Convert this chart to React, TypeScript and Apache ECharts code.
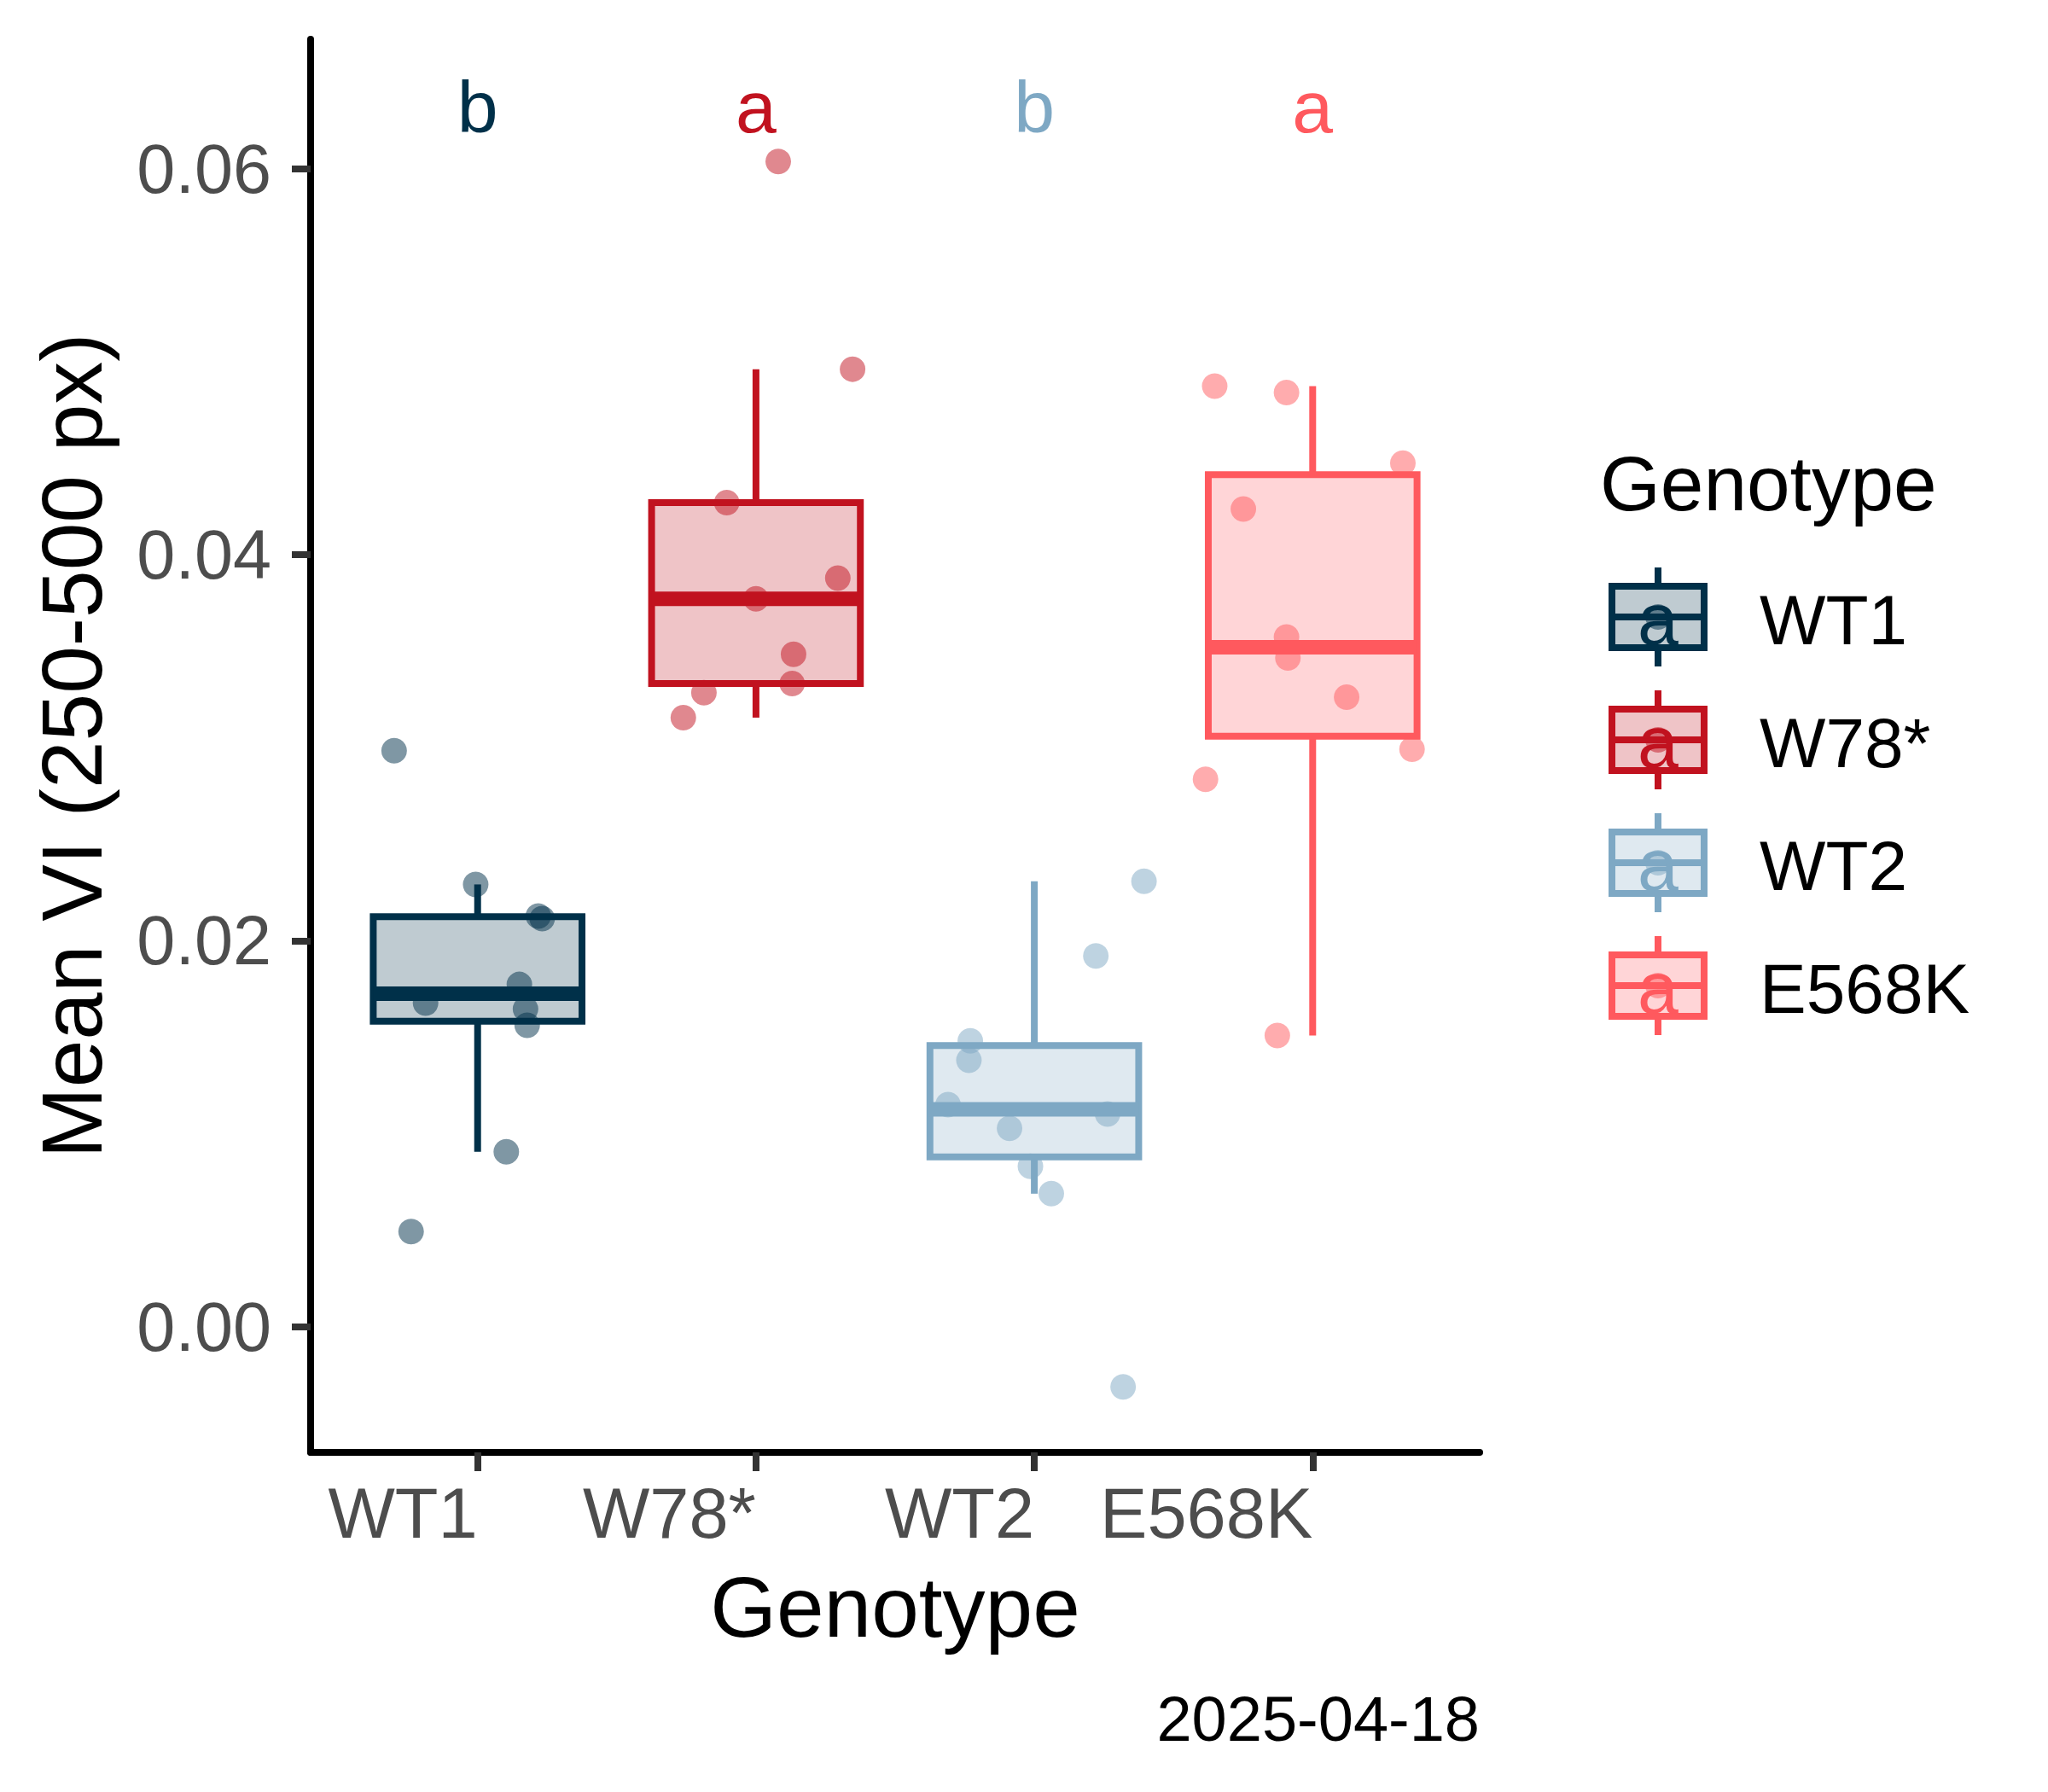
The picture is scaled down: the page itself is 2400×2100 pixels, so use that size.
import React, { useEffect, useRef } from 'react';
import * as echarts from 'echarts';

// ---- data ----
const CATEGORIES = ['WT1', 'W78*', 'WT2', 'E568K'];
const COLORS = ['#003049', '#C1121F', '#7EA8C4', '#FF595E'];
const LETTERS = ['b', 'a', 'b', 'a'];
const LETTER_Y = 0.0632;
const LEGEND_KEY_LETTER = 'a';

// jittered points: x offset from category centre (category units) and value
const WT1_OFFSETS = [-0.3, -0.007, 0.218, 0.232, 0.15, -0.187, 0.172, 0.178, 0.103, -0.239];
const WT1_VALUES = [0.02985, 0.02292, 0.02128, 0.02115, 0.01774, 0.01677, 0.01646, 0.01562, 0.00907, 0.00494];
const W78_OFFSETS = [0.08, 0.347, -0.105, 0.294, 0.0, 0.135, 0.13, -0.187, -0.261];
const W78_VALUES = [0.06037, 0.04961, 0.0427, 0.03879, 0.03771, 0.03484, 0.03333, 0.03285, 0.03156];
const WT2_OFFSETS = [0.394, 0.221, -0.23, -0.235, -0.31, 0.263, -0.089, -0.014, 0.061, 0.319];
const WT2_VALUES = [0.02308, 0.01922, 0.01482, 0.01381, 0.01151, 0.01103, 0.01029, 0.00832, 0.0069, -0.00311];
const E568K_OFFSETS = [-0.352, -0.094, 0.324, -0.249, -0.094, -0.089, 0.122, 0.357, -0.385, -0.127];
const E568K_VALUES = [0.04873, 0.0484, 0.04474, 0.04237, 0.03574, 0.03465, 0.03262, 0.02992, 0.02836, 0.01509];

// box statistics: [lower whisker, Q1, median, Q3, upper whisker]
const WT1_BOX = [0.00907, 0.01583, 0.01726, 0.02125, 0.02292];
const W78_BOX = [0.03156, 0.03333, 0.03771, 0.0427, 0.04961];
const WT2_BOX = [0.0069, 0.00881, 0.01127, 0.01457, 0.02308];
const E568K_BOX = [0.01509, 0.0306, 0.0352, 0.04415, 0.04873];

const Y_TICKS = [0, 0.02, 0.04, 0.06];
const X_TICKS = [1, 2, 3, 4];
const Y_MIN = -0.0065;
const Y_MAX = 0.0667;
const X_TITLE = 'Genotype';
const Y_TITLE = 'Mean VI (250-500 px)';
const LEGEND_TITLE = 'Genotype';
const CAPTION = '2025-04-18';

const POINT_OFFSETS = [WT1_OFFSETS, W78_OFFSETS, WT2_OFFSETS, E568K_OFFSETS];
const POINT_VALUES = [WT1_VALUES, W78_VALUES, WT2_VALUES, E568K_VALUES];
const BOXES = [WT1_BOX, W78_BOX, WT2_BOX, E568K_BOX];

// ---- styling ----
const FONT = '"Liberation Sans", Arial, Helvetica, sans-serif';
const BOX_HALF = 0.375;
const LINE_W = 8;
const MEDIAN_W = 17;
const X_TICK_FONT = 83;
const Y_TICK_FONT = 81;
const LEGEND_LABEL_FONT = 82;

function rgba(hex: string, a: number) {
  const h = hex.replace('#', '');
  const r = parseInt(h.slice(0, 2), 16);
  const g = parseInt(h.slice(2, 4), 16);
  const b = parseInt(h.slice(4, 6), 16);
  return `rgba(${r},${g},${b},${a})`;
}

function buildOption() {
  const scatterSeries = CATEGORIES.map((name, gi) => ({
    type: 'scatter',
    name,
    z: 1,
    symbol: 'circle',
    symbolSize: 30,
    itemStyle: { color: COLORS[gi], opacity: 0.5 },
    silent: true,
    data: POINT_VALUES[gi].map((v, i) => [gi + 1 + POINT_OFFSETS[gi][i], v]),
  }));

  const boxSeries = {
    type: 'custom',
    z: 2,
    silent: true,
    encode: { x: 0, y: [1, 2, 3, 4, 5] },
    data: BOXES.map((b, gi) => [gi + 1, ...b]),
    renderItem: (params: any, api: any) => {
      const x = api.value(0);
      const lo = api.coord([x, api.value(1)]);
      const q1 = api.coord([x, api.value(2)]);
      const md = api.coord([x, api.value(3)]);
      const q3 = api.coord([x, api.value(4)]);
      const hi = api.coord([x, api.value(5)]);
      const left = api.coord([x - BOX_HALF, 0])[0];
      const right = api.coord([x + BOX_HALF, 0])[0];
      const c = COLORS[params.dataIndex];
      return {
        type: 'group',
        children: [
          { type: 'line', shape: { x1: lo[0], y1: lo[1], x2: q1[0], y2: q1[1] }, style: { stroke: c, lineWidth: LINE_W } },
          { type: 'line', shape: { x1: q3[0], y1: q3[1], x2: hi[0], y2: hi[1] }, style: { stroke: c, lineWidth: LINE_W } },
          {
            type: 'rect',
            shape: { x: left, y: q3[1], width: right - left, height: q1[1] - q3[1] },
            style: { fill: rgba(c, 0.25), stroke: c, lineWidth: LINE_W, lineJoin: 'miter' },
          },
          { type: 'line', shape: { x1: left, y1: md[1], x2: right, y2: md[1] }, style: { stroke: c, lineWidth: MEDIAN_W } },
        ],
      };
    },
  };

  const letterSeries = {
    type: 'custom',
    z: 3,
    silent: true,
    encode: { x: 0, y: 1 },
    data: LETTERS.map((l, gi) => [gi + 1, LETTER_Y]),
    renderItem: (params: any, api: any) => {
      const p = api.coord([api.value(0), api.value(1)]);
      return {
        type: 'text',
        x: p[0],
        y: p[1],
        style: {
          text: LETTERS[params.dataIndex],
          fill: COLORS[params.dataIndex],
          fontSize: 86,
          fontFamily: FONT,
          align: 'center',
          verticalAlign: 'middle',
        },
      };
    },
  };

  // legend built as graphics
  const legendChildren: any[] = [];
  legendChildren.push({
    type: 'text',
    x: 1875,
    y: 566,
    style: { text: LEGEND_TITLE, fontSize: 91, fontFamily: FONT, fill: '#000', align: 'left', verticalAlign: 'middle' },
  });
  CATEGORIES.forEach((name, gi) => {
    const cy = 723 + gi * 144;
    const kx = 1943;
    const c = COLORS[gi];
    legendChildren.push(
      { type: 'circle', shape: { cx: kx, cy, r: 15 }, style: { fill: rgba(c, 0.5) } },
      { type: 'line', shape: { x1: kx, y1: cy - 58, x2: kx, y2: cy - 36 }, style: { stroke: c, lineWidth: LINE_W } },
      { type: 'line', shape: { x1: kx, y1: cy + 36, x2: kx, y2: cy + 58 }, style: { stroke: c, lineWidth: LINE_W } },
      {
        type: 'rect',
        shape: { x: 1889, y: cy - 36, width: 108, height: 72 },
        style: { fill: rgba(c, 0.25), stroke: c, lineWidth: LINE_W },
      },
      { type: 'line', shape: { x1: 1889, y1: cy, x2: 1997, y2: cy }, style: { stroke: c, lineWidth: LINE_W } },
      {
        type: 'text',
        x: kx,
        y: cy + 2,
        style: { text: LEGEND_KEY_LETTER, fontSize: 86, fontFamily: FONT, fill: c, align: 'center', verticalAlign: 'middle' },
      },
      {
        type: 'text',
        x: 2062,
        y: cy + 3,
        style: { text: name, fontSize: LEGEND_LABEL_FONT, fontFamily: FONT, fill: '#000', align: 'left', verticalAlign: 'middle' },
      }
    );
  });

  return {
    animation: false,
    backgroundColor: '#ffffff',
    textStyle: { fontFamily: FONT },
    grid: { left: 364, top: 46, width: 1370, height: 1656, containLabel: false, outerBoundsMode: 'none' },
    xAxis: {
      type: 'value',
      min: 0.4,
      max: 4.6,
      splitLine: { show: false },
      axisLine: { show: true, onZero: false, lineStyle: { color: '#000000', width: LINE_W } },
      axisTick: { show: true, customValues: X_TICKS, length: 22, lineStyle: { color: '#333333', width: LINE_W } },
      axisLabel: {
        show: true,
        customValues: X_TICKS,
        formatter: (v: number) => CATEGORIES[Math.round(v) - 1] ?? '',
        color: '#4D4D4D',
        fontSize: X_TICK_FONT,
        fontFamily: FONT,
        align: 'right',
        verticalAlign: 'middle',
        margin: 71,
      },
    },
    yAxis: {
      type: 'value',
      min: Y_MIN,
      max: Y_MAX,
      splitLine: { show: false },
      axisLine: { show: true, onZero: false, lineStyle: { color: '#000000', width: LINE_W } },
      axisTick: { show: true, customValues: Y_TICKS, length: 22, lineStyle: { color: '#333333', width: LINE_W } },
      axisLabel: {
        show: true,
        customValues: Y_TICKS,
        formatter: (v: number) => v.toFixed(2),
        color: '#4D4D4D',
        fontSize: Y_TICK_FONT,
        fontFamily: FONT,
        margin: 46,
      },
    },
    graphic: [
      {
        type: 'text',
        x: 84,
        y: 874,
        rotation: Math.PI / 2,
        style: { text: Y_TITLE, fontSize: 100, fontFamily: FONT, fill: '#000', align: 'center', verticalAlign: 'middle' },
      },
      {
        type: 'text',
        x: 1049,
        y: 1883,
        style: { text: X_TITLE, fontSize: 100, fontFamily: FONT, fill: '#000', align: 'center', verticalAlign: 'middle' },
      },
      {
        type: 'text',
        x: 1734,
        y: 2014,
        style: { text: CAPTION, fontSize: 74, fontFamily: FONT, fill: '#000', align: 'right', verticalAlign: 'middle' },
      },
      { type: 'group', children: legendChildren },
    ],
    series: [...scatterSeries, boxSeries, letterSeries],
  };
}

export default function App() {
  const ref = useRef<HTMLDivElement>(null);
  useEffect(() => {
    document.body.style.margin = '0';
    if (!ref.current) return;
    const chart = echarts.init(ref.current, undefined, { renderer: 'svg' });
    chart.setOption(buildOption() as any);
    return () => chart.dispose();
  }, []);
  return <div ref={ref} style={{ width: 2400, height: 2100, background: '#fff' }} />;
}
